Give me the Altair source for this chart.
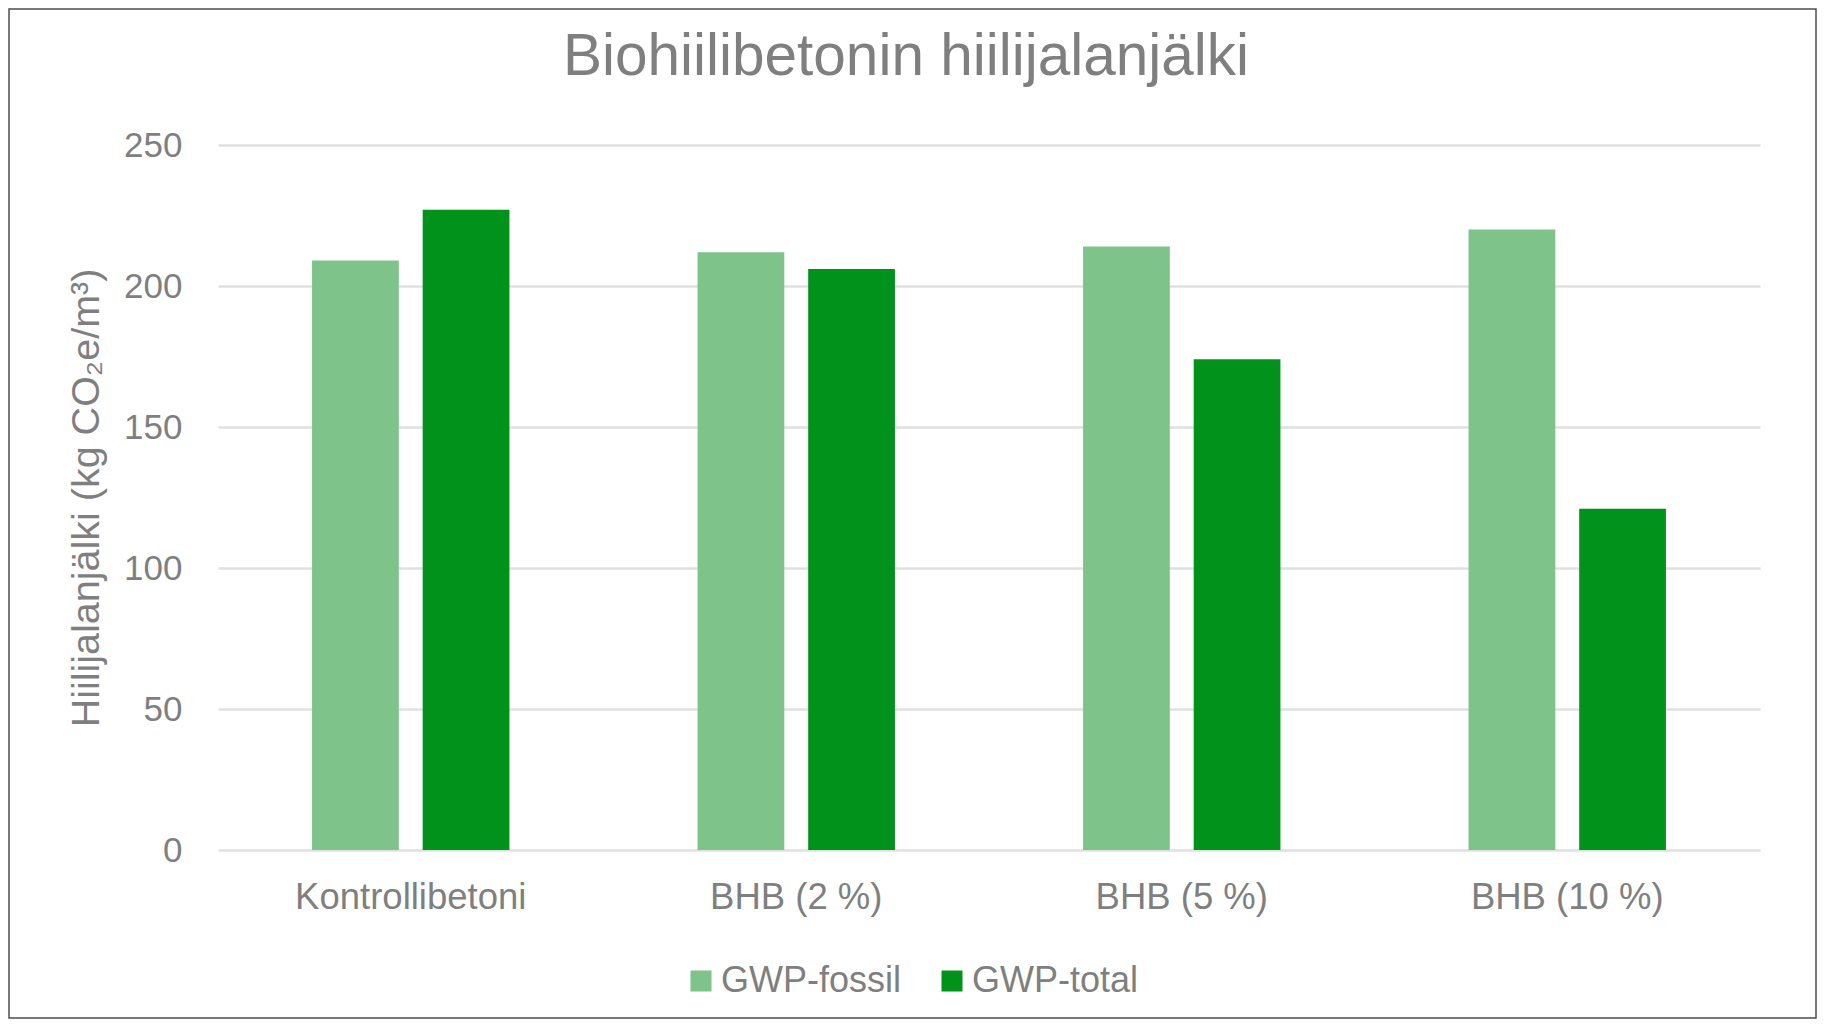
import altair as alt
import pandas as pd

categories = ["Kontrollibetoni", "BHB (2 %)", "BHB (5 %)", "BHB (10 %)"]
series = ["GWP-fossil", "GWP-total"]
gwp_fossil = [209, 212, 214, 220]
gwp_total = [227, 206, 174, 121]
y_ticks = [0, 50, 100, 150, 200, 250]
colors = ["#7DC38A", "#00921A"]

rows = []
for c, f, t in zip(categories, gwp_fossil, gwp_total):
    rows.append({"category": c, "series": series[0], "value": f})
    rows.append({"category": c, "series": series[1], "value": t})
df = pd.DataFrame(rows)

FONT = "Liberation Sans"
GRAY = "#7f7f7f"
W, H = 1542, 705

bars = alt.Chart(df).mark_bar().encode(
    x=alt.X(
        "category:N",
        sort=categories,
        scale=alt.Scale(paddingInner=0.488, paddingOuter=0.244),
        axis=alt.Axis(
            title=None, labelAngle=0, labelFont=FONT, labelFontSize=36.5,
            labelColor=GRAY, labelPadding=58, labelBaseline="alphabetic",
            labelLimit=0, ticks=False, tickSize=0, domain=False, grid=False,
        ),
    ),
    xOffset=alt.XOffset(
        "series:N", sort=series,
        scale=alt.Scale(paddingInner=0.216, paddingOuter=0),
    ),
    y=alt.Y(
        "value:Q",
        scale=alt.Scale(domain=[0, 250], nice=False),
        axis=alt.Axis(
            values=y_ticks, title="Hiilijalanjälki (kg CO₂e/m³)",
            labelFont=FONT, labelFontSize=35, labelColor=GRAY, labelPadding=36,
            ticks=False, tickSize=0, domain=False,
            grid=True, gridColor="#e0e0e0", gridWidth=2.5,
            titleFont=FONT, titleFontSize=39.5, titleColor=GRAY,
            titleFontWeight="normal", titleX=-120, titleY=H / 2,
            titleAngle=270, titleBaseline="alphabetic", titleAlign="center",
        ),
    ),
    color=alt.Color(
        "series:N", sort=series,
        scale=alt.Scale(domain=series, range=colors),
        legend=alt.Legend(
            title=None, orient="none", legendX=465, legendY=818,
            direction="horizontal", symbolType="square", symbolSize=441,
            symbolStrokeWidth=0, symbolOpacity=1, labelFont=FONT,
            labelFontSize=36, labelColor=GRAY, labelOffset=2, labelLimit=0,
            columnPadding=33, padding=0,
        ),
    ),
)

frame = alt.Chart(alt.Data(values=[{}])).mark_rect(
    filled=False, stroke="#4d4d4d", strokeWidth=1.5
).encode(
    x=alt.value(-209), x2=alt.value(1598), y=alt.value(-136), y2=alt.value(873)
)

chart = alt.layer(bars, frame).properties(
    width=W,
    height=H,
    title=alt.TitleParams(
        text="Biohiilibetonin hiilijalanjälki", font=FONT, fontSize=58.5,
        fontWeight="normal", color=GRAY, anchor="middle", frame="group",
        dx=-83, dy=125, offset=0, baseline="alphabetic",
    ),
    autosize=alt.AutoSizeParams(type="none"),
    padding={"left": 210, "top": 137, "right": 57, "bottom": 169},
).configure_view(stroke=None)

chart.save("out.html", embed_options={"renderer": "svg", "actions": False})
